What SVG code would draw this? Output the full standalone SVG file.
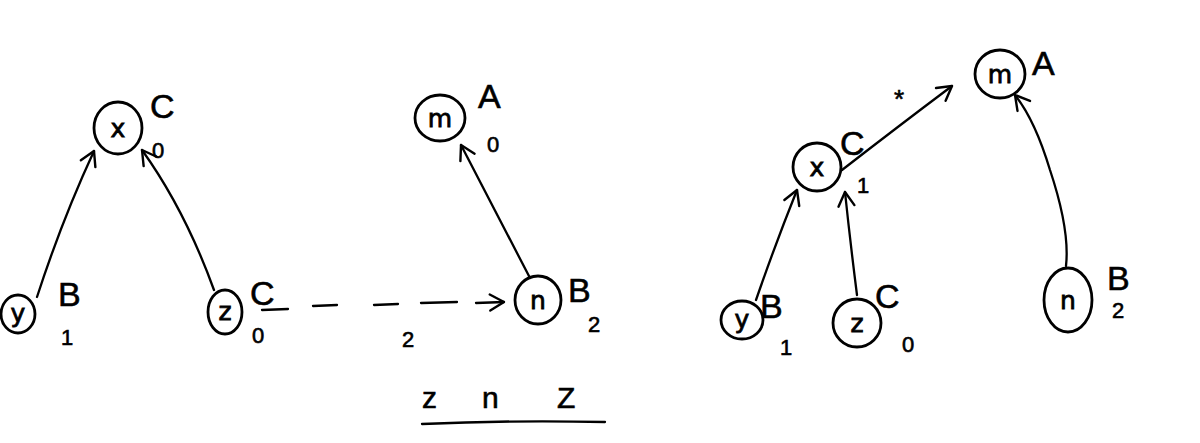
<svg xmlns="http://www.w3.org/2000/svg" width="1200" height="443" viewBox="0 0 1200 443">
<defs>
<style>
.n{fill:none;stroke:#000;stroke-width:2.8;stroke-linecap:round}
.e{fill:none;stroke:#000;stroke-width:2.3;stroke-linecap:round}
.v{font-family:"DejaVu Sans",sans-serif;font-size:25px;fill:#000;stroke:#000;stroke-width:0.8;text-anchor:middle}
.c{font-family:"Liberation Sans",sans-serif;font-size:34px;fill:#000;stroke:#000;stroke-width:0.6}
.s{font-family:"Liberation Sans",sans-serif;font-size:22px;fill:#000;stroke:#000;stroke-width:0.6}
</style>
<marker id="ah" viewBox="0 0 20 20" refX="18" refY="10" markerWidth="20" markerHeight="20" markerUnits="userSpaceOnUse" orient="auto">
<path d="M4,2 L18,10 L4,18" fill="none" stroke="#000" stroke-width="2.4" stroke-linecap="round" stroke-linejoin="round"/>
</marker>
</defs>
<rect width="1200" height="443" fill="#fff"/>
<g id="connectors">
<path class="e" d="M37,297 Q62,220 94,151" marker-end="url(#ah)"/>
<path class="e" d="M214,290 Q185,210 142,150" marker-end="url(#ah)"/>
<path class="e" d="M530,278 Q495,210 461,145" marker-end="url(#ah)"/>
<path class="e" d="M262,310 L288,309 M313,306 L337,305 M374,305 L398,304 M421,303 L457,302 M476,303 L504,302" marker-end="url(#ah)"/>
<path class="e" d="M756,300 Q775,245 797,190" marker-end="url(#ah)"/>
<path class="e" d="M857,295 Q850,240 845,192" marker-end="url(#ah)"/>
<path class="e" d="M842,170 Q900,125 952,86" marker-end="url(#ah)"/>
<path class="e" d="M1066,266 Q1070,230 1050,170 Q1035,120 1015,95" marker-end="url(#ah)"/>
</g>
<g id="node-x-left">
<ellipse class="n" cx="118" cy="128" rx="24" ry="26"/>
<text class="v" x="118" y="137">x</text>
<text class="c" x="150" y="118">C</text>
<text class="s" x="152" y="158">0</text>
</g>
<g id="node-y-left">
<ellipse class="n" cx="18" cy="314" rx="17" ry="19"/>
<text class="v" x="18" y="322">y</text>
<text class="c" x="58" y="306">B</text>
<text class="s" x="61" y="345">1</text>
</g>
<g id="node-z-left">
<ellipse class="n" cx="225" cy="312" rx="17" ry="22"/>
<text class="v" x="225" y="320">z</text>
<text class="c" x="250" y="305">C</text>
<text class="s" x="252" y="343">0</text>
</g>
<text class="s" x="402" y="347">2</text>
<g id="node-n-left">
<ellipse class="n" cx="538" cy="300" rx="23" ry="24"/>
<text class="v" x="538" y="309">n</text>
<text class="c" x="568" y="302">B</text>
<text class="s" x="588" y="332">2</text>
</g>
<g id="node-m-left">
<ellipse class="n" cx="440" cy="118" rx="25" ry="23"/>
<text class="v" x="440" y="127">m</text>
<text class="c" x="478" y="108">A</text>
<text class="s" x="487" y="152">0</text>
</g>
<g id="caption">
<text class="c" style="font-size:30px"><tspan x="422" y="408">z</tspan><tspan x="482" y="408">n</tspan><tspan x="557" y="408">Z</tspan></text>
<path class="e" d="M422,424 Q510,420 605,422"/>
</g>
<g id="node-x-right">
<ellipse class="n" cx="817" cy="167" rx="24" ry="24"/>
<text class="v" x="817" y="176">x</text>
<text class="c" x="840" y="155">C</text>
<text class="s" x="857" y="193">1</text>
</g>
<text class="s" x="894" y="108" style="font-size:26px">*</text>
<g id="node-m-right">
<ellipse class="n" cx="1000" cy="74" rx="25" ry="24"/>
<text class="v" x="1000" y="83">m</text>
<text class="c" x="1032" y="75">A</text>
</g>
<g id="node-y-right">
<ellipse class="n" cx="742" cy="320" rx="21" ry="19"/>
<text class="v" x="742" y="328">y</text>
<text class="c" x="760" y="318">B</text>
<text class="s" x="780" y="355">1</text>
</g>
<g id="node-z-right">
<ellipse class="n" cx="857" cy="323" rx="24" ry="24"/>
<text class="v" x="857" y="332">z</text>
<text class="c" x="875" y="308">C</text>
<text class="s" x="902" y="352">0</text>
</g>
<g id="node-n-right">
<ellipse class="n" cx="1068" cy="300" rx="24" ry="32"/>
<text class="v" x="1068" y="309">n</text>
<text class="c" x="1107" y="290">B</text>
<text class="s" x="1112" y="318">2</text>
</g>
</svg>
